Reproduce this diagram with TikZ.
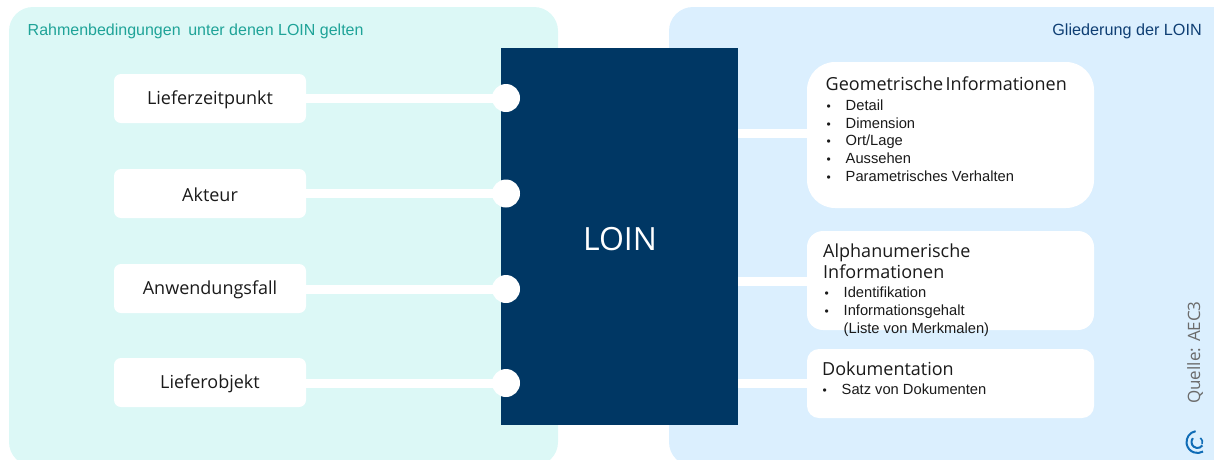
\documentclass[tikz,border=0pt]{standalone}
\usepackage{fontspec}
\setmainfont{Open Sans}
\newfontfamily\arialf{Liberation Sans}
\definecolor{panelL}{HTML}{DCF8F6}
\definecolor{panelR}{HTML}{DBEFFE}
\definecolor{navy}{HTML}{003764}
\definecolor{tealtxt}{HTML}{1FA398}
\definecolor{bluetxt}{HTML}{0F3F74}
\definecolor{logoblue}{HTML}{0F6CB6}
\definecolor{txt}{HTML}{1A1A1A}
\tikzset{
 x=1pt,y=-1pt,
 panel/.style={rounded corners=24pt},
 lbox/.style={fill=white,rounded corners=7pt,minimum width=192pt,minimum height=49pt,inner sep=0pt,font=\fontsize{18}{20}\selectfont,text=txt},
 rbox/.style={minimum width=287pt,inner sep=0pt},
 port/.style={circle,fill=white,minimum size=28pt,inner sep=0pt},
 link/.style={draw=white,line width=9pt},
 head/.style={font=\fontsize{18}{21.5}\selectfont,text=txt,anchor=north west,inner sep=0pt,align=left},
 items/.style={font=\arialf\fontsize{14.7}{17.8}\selectfont,text=txt,anchor=north west,inner sep=0pt,align=left},
 dot/.style={font=\arialf\fontsize{12}{17.8}\selectfont,text=txt,anchor=north west,inner sep=0pt,align=left},
 logoarc/.style={draw=logoblue,line width=2pt},
}
\newcommand{\lowtxt}[1]{\raisebox{-1pt}[\height][\depth]{#1}}
\begin{document}
\begin{tikzpicture}
\useasboundingbox (0,0) rectangle (1214,459);
\begin{scope}
\clip (0,0) rectangle (1214,459);
\fill[panelL,panel] (9,7) rectangle (558,466);
\fill[panelR,panel] (669,7) rectangle (1250,466);
\end{scope}
\node[anchor=base west,inner sep=0pt,text=tealtxt,font=\arialf\fontsize{16}{18}\selectfont] (t1) at (27.5,35.5) {Rahmenbedingungen\hspace{0.2em} unter denen LOIN gelten};
\node[anchor=base east,inner sep=0pt,text=bluetxt,font=\arialf\fontsize{16.2}{18}\selectfont] (t2) at (1202,35.5) {Gliederung der LOIN};

\node[fill=navy,minimum width=237pt,minimum height=377pt,inner sep=0pt] (loin) at (619.5,236.5) {};
\node[inner sep=0pt,text=white,font=\fontsize{32}{36}\selectfont] (loint) at (620,239.5) {LOIN};

\node[lbox] (a1) at (210,98.5) {\lowtxt{Lieferzeitpunkt}};
\node[lbox] (a2) at (210,193.5) {\lowtxt{Akteur}};
\node[lbox] (a3) at (210,288.5) {\lowtxt{Anwendungsfall}};
\node[lbox] (a4) at (210,382.5) {\lowtxt{Lieferobjekt}};
\node[port] (c1) at (506,98) {};
\node[port] (c2) at (506,193.5) {};
\node[port] (c3) at (506,289) {};
\node[port] (c4) at (506,383) {};
\foreach \i in {1,2,3,4} {\draw[link] (a\i.east |- c\i) -- (c\i.center);}

\fill[white,rounded corners=28pt] (807,62) rectangle (1094,208);
\node[rbox,minimum height=146pt] (r1) at (950.5,135) {};
\fill[white,rounded corners=16pt] (807,231) rectangle (1094,330);
\node[rbox,minimum height=99pt] (r2) at (950.5,280.5) {};
\fill[white,rounded corners=12pt] (807,349) rectangle (1094,418);
\node[rbox,minimum height=69pt] (r3) at (950.5,383.5) {};
\coordinate (k1) at (738,133);
\coordinate (k2) at (738,281.5);
\coordinate (k3) at (738,383.5);
\draw[link] (k1) -- (r1.west |- k1);
\draw[link] (k2) -- (r2.west |- k2);
\draw[link] (k3) -- (r3.west |- k3);

\node[head] (h1) at (825.5,77) {Geometrische\hspace{-0.12em} Informationen};
\node[dot] (d1) at (826.5,104.5) {•\\•\\•\\•\\•};
\node[items] (i1) at (845.5,99.5) {Detail\\Dimension\\Ort/Lage\\Aussehen\\Parametrisches Verhalten};

\node[head] (h2) at (823,243.5) {Alphanumerische\\Informationen};
\node[dot] (d2) at (824.5,292) {•\\•};
\node[items] (i2) at (843.5,287) {Identifikation\\Informationsgehalt\\(Liste von Merkmalen)};

\node[head] (h3) at (822,361.5) {Dokumentation};
\node[dot] (d3) at (822.5,388.5) {•};
\node[items] (i3) at (841.5,383.5) {Satz von Dokumenten};

\node[rotate=90,inner sep=0pt,text=black!58,font=\fontsize{17}{20}\selectfont] (q) at (1195,352.5) {Quelle: AEC3};

% logo
\begin{scope}[shift={(1197.5,442)},y=1pt]
\draw[logoarc] (100:11pt) arc[start angle=100,end angle=300,radius=11pt];
\draw[logoarc] (140:6pt) arc[start angle=140,end angle=325,radius=6pt];
\draw[logoarc,line width=1.6pt] (55:5pt) arc[start angle=55,end angle=-25,radius=5pt];
\end{scope}
\end{tikzpicture}
\end{document}
